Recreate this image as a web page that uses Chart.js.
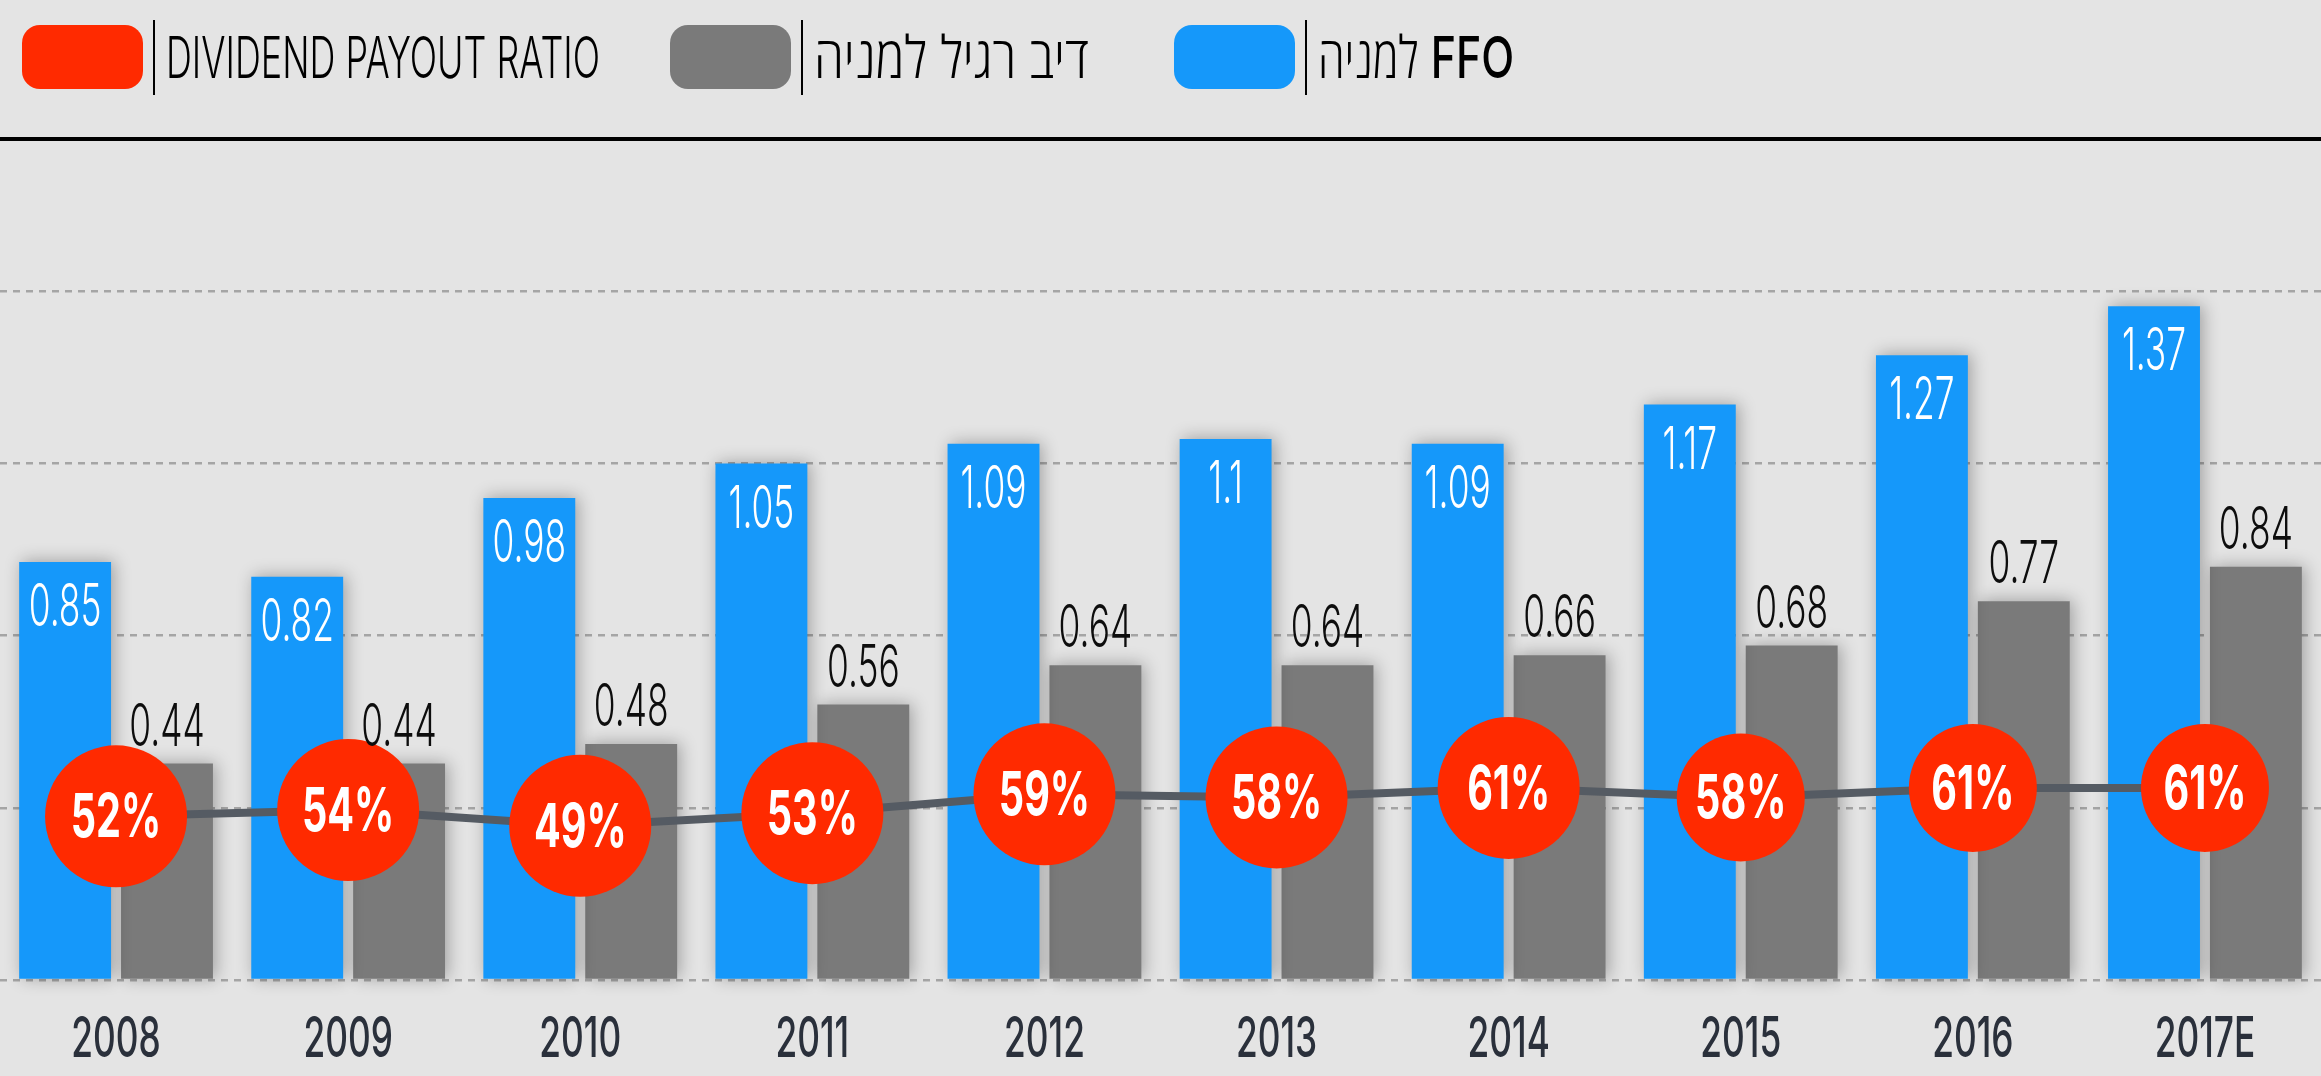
<!doctype html>
<html lang="he">
  <head>
    <meta charset="UTF-8" />
    <title>FFO ודיבידנד למניה</title>
    <script src="https://cdn.jsdelivr.net/npm/chart.js"></script>
    <style>
      body {
        margin: 0;
        width: 2321px;
        height: 1076px;
        overflow: hidden;
        background: #e4e4e4;
        font-family: Inter, "Open Sans", "DejaVu Sans", sans-serif;
      }

      #chart-wrap {
        position: absolute;
        left: 0;
        top: 0;
        width: 2321px;
        height: 1076px;
      }

      .legend {
        position: absolute;
        left: 0;
        top: 0;
        width: 100%;
        height: 137px;
        border-bottom: 4px solid #000;
      }

      .item {
        position: absolute;
        top: 25px;
        height: 64px;
        display: flex;
        align-items: center;
      }

      .swatch {
        width: 121px;
        height: 64px;
        border-radius: 18px;
      }

      .sep {
        width: 2px;
        height: 75px;
        margin-left: 10px;
        background: #000;
      }

      .label {
        margin-left: 11px;
        font-size: 58px;
        font-weight: 300;
        line-height: 58px;
        white-space: nowrap;
        color: #000;
        transform: scaleX(0.62);
        transform-origin: left center;
      }

      .label.he {
        transform: scaleX(0.83);
      }

      .label.ffo {
        transform: scaleX(0.74);
      }

      .label b {
        font-weight: 500;
      }
    </style>
  </head>

  <body>
    <div id="chart-wrap"><canvas id="ffoChart"></canvas></div>

    <div class="legend">
      <div class="item" style="left: 22px">
        <span class="swatch" style="background: #ff2a00"></span>
        <span class="sep"></span>
        <span class="label">DIVIDEND PAYOUT RATIO</span>
      </div>
      <div class="item" style="left: 670px">
        <span class="swatch" style="background: #7a7a7a"></span>
        <span class="sep"></span>
        <span class="label he" dir="rtl">דיב רגיל למניה</span>
      </div>
      <div class="item" style="left: 1174px">
        <span class="swatch" style="background: #1598fa"></span>
        <span class="sep"></span>
        <span class="label ffo" dir="rtl"><b>FFO</b> למניה</span>
      </div>
    </div>

    <script>
      const years = ["2008", "2009", "2010", "2011", "2012", "2013", "2014", "2015", "2016", "2017E"];
      const ffoPerShare = [0.85, 0.82, 0.98, 1.05, 1.09, 1.1, 1.09, 1.17, 1.27, 1.37];
      const dividendPerShare = [0.44, 0.44, 0.48, 0.56, 0.64, 0.64, 0.66, 0.68, 0.77, 0.84];
      const payoutRatio = [52, 54, 49, 53, 59, 58, 61, 58, 61, 61];
      const gridValues = [0, 0.35, 0.7, 1.05, 1.4];

      const BLUE = "#1598fa";
      const GREY = "#7a7a7a";
      const RED = "#ff2a00";
      const LINE = "#555b63";
      const circleRadius = [71, 71, 71, 71, 71, 71, 71, 64, 64, 64];

      const LIGHT = "300 59px Inter, Roboto, sans-serif";
      const BOLD = "700 60px Inter, Roboto, sans-serif";
      const YEAR = "500 56px Inter, Roboto, sans-serif";

      // condensed look: squeeze the glyphs horizontally around the anchor
      function squeezedText(ctx, text, x, y, font, color, sx) {
        ctx.save();
        ctx.translate(x, y);
        ctx.scale(sx, 1);
        ctx.font = font;
        ctx.fillStyle = color;
        ctx.textAlign = "center";
        ctx.textBaseline = "alphabetic";
        ctx.fillText(text, 0, 0);
        ctx.restore();
      }

      const barShadow = {
        id: "barShadow",
        beforeDatasetDraw(chart, args) {
          if (args.meta.type !== "bar") return;
          const ctx = chart.ctx;
          ctx.save();
          ctx.shadowColor = "rgba(0,0,0,0.3)";
          ctx.shadowBlur = 16;
          ctx.shadowOffsetX = 3;
          ctx.shadowOffsetY = -1;
        },
        afterDatasetDraw(chart, args) {
          if (args.meta.type === "bar") chart.ctx.restore();
        },
      };

      const valueLabels = {
        id: "valueLabels",
        afterDatasetsDraw(chart) {
          const ctx = chart.ctx;
          chart.getDatasetMeta(0).data.forEach((bar, i) => {
            squeezedText(ctx, String(ffoPerShare[i]), bar.x, bar.y + 64, LIGHT, "#fff", 0.6);
          });
          chart.getDatasetMeta(1).data.forEach((bar, i) => {
            squeezedText(ctx, String(dividendPerShare[i]), bar.x, bar.y - 18, LIGHT, "#0d0d0d", 0.6);
          });
          chart.getDatasetMeta(2).data.forEach((pt, i) => {
            squeezedText(ctx, payoutRatio[i] + "%", pt.x, pt.y + 21, BOLD, "#fff", 0.66);
          });
          const xs = chart.scales.x;
          const base = chart.chartArea.bottom + 77;
          years.forEach((y, i) => {
            squeezedText(ctx, y, xs.getPixelForValue(i), base, YEAR, "#2a303b", 0.63);
          });
        },
      };

      const ctx = document.getElementById("ffoChart").getContext("2d");
      new Chart(ctx, {
        type: "bar",
        data: {
          labels: years,
          datasets: [
            {
              label: "FFO למניה",
              data: ffoPerShare,
              backgroundColor: BLUE,
              categoryPercentage: 0.878,
              barPercentage: 0.902,
              order: 1,
              clip: false,
            },
            {
              label: "דיב רגיל למניה",
              data: dividendPerShare,
              backgroundColor: GREY,
              categoryPercentage: 0.878,
              barPercentage: 0.902,
              order: 1,
              clip: false,
            },
            {
              type: "line",
              label: "DIVIDEND PAYOUT RATIO",
              data: payoutRatio,
              yAxisID: "y1",
              borderColor: LINE,
              borderWidth: 8,
              tension: 0,
              pointRadius: circleRadius,
              pointBackgroundColor: RED,
              pointBorderWidth: 0,
              order: 0,
              clip: false,
            },
          ],
        },
        options: {
          responsive: true,
          maintainAspectRatio: false,
          animation: false,
          events: [],
          layout: {
            autoPadding: false,
            padding: { top: 193, left: 0, right: 0, bottom: 0 },
          },
          plugins: {
            legend: { display: false },
            tooltip: { enabled: false },
          },
          scales: {
            x: {
              grid: { display: false },
              border: { display: false },
              ticks: { display: false },
              afterFit(s) {
                s.height = 96;
              },
            },
            y: {
              min: 0,
              max: 1.6,
              afterBuildTicks(s) {
                s.ticks = gridValues.map((v) => ({ value: v }));
              },
              ticks: { display: false },
              grid: { color: "#a5a5a5", lineWidth: 2.5, drawTicks: false },
              border: { display: false, dash: [7, 6] },
              afterFit(s) {
                s.width = 0;
              },
            },
            y1: { display: false, min: 0, max: 250 },
          },
        },
        plugins: [barShadow, valueLabels],
      });
    </script>
  </body>
</html>
